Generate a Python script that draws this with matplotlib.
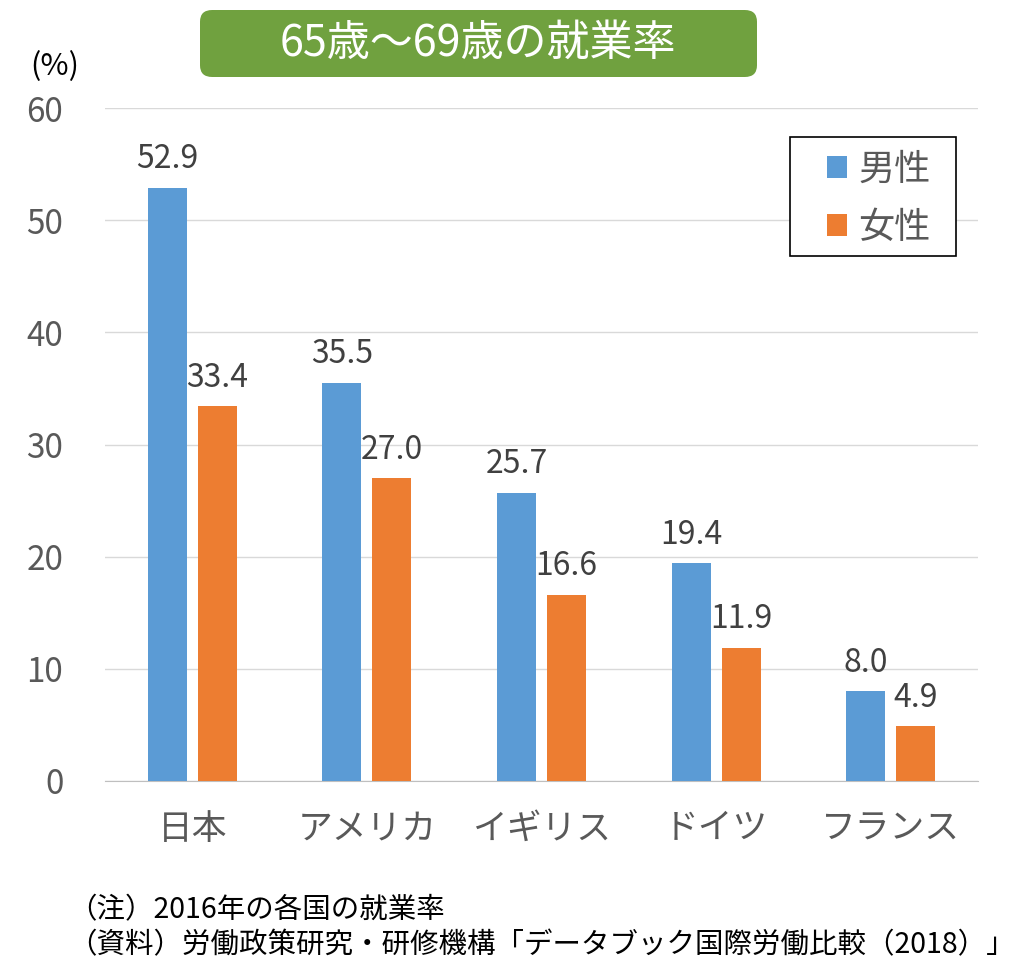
import matplotlib.pyplot as plt
import numpy as np
from matplotlib.patches import FancyBboxPatch, Rectangle

plt.rcParams['font.family'] = ['Noto Sans CJK JP', 'DejaVu Sans']

countries = ['日本', 'アメリカ', 'イギリス', 'ドイツ', 'フランス']
male = [52.9, 35.5, 25.7, 19.4, 8.0]
female = [33.4, 27.0, 16.6, 11.9, 4.9]
yticks = [0, 10, 20, 30, 40, 50, 60]

BLUE = '#5B9BD5'
ORANGE = '#ED7D31'
TXT = '#404040'
TICK = '#595959'

fig = plt.figure(figsize=(10.16, 9.76), dpi=100)
ax = fig.add_axes([0.1033, 0.1998, 0.8593, 0.6895])

x = np.arange(len(countries))
w = 0.223
off = 0.143
b1 = ax.bar(x - off, male, w, color=BLUE, label='男性', zorder=3)
b2 = ax.bar(x + off, female, w, color=ORANGE, label='女性', zorder=3)

for bars, vals in ((b1, male), (b2, female)):
    for r, v in zip(bars, vals):
        ax.annotate(f'{v:.1f}', (r.get_x() + r.get_width() / 2, v),
                    xytext=(0, 9), textcoords='offset points',
                    ha='center', va='bottom', fontsize=23, color=TXT)

ax.set_xlim(-0.5, len(countries) - 0.5)
ax.set_ylim(0, 60)
ax.set_yticks(yticks)
ax.set_xticks(x)
ax.set_xticklabels(countries, fontsize=25, color=TICK)
ax.tick_params(axis='y', labelsize=24, labelcolor=TICK, length=0, pad=30)
ax.tick_params(axis='x', length=0, pad=22)
ax.grid(axis='y', color='#D9D9D9', linewidth=1, zorder=0)
for s in ['top', 'right', 'left']:
    ax.spines[s].set_visible(False)
ax.spines['bottom'].set_color('#BFBFBF')

# legend box drawn separately (wider side padding than legend allows)
fig.patches.append(Rectangle((790 / 1016, 1 - 256 / 976), 166 / 1016, 119 / 976,
                             transform=fig.transFigure, facecolor='white',
                             edgecolor='black', linewidth=1.2, zorder=4))
leg = fig.legend(handles=[b1, b2], loc='upper left',
                 bbox_to_anchor=(827 / 1016, 1 - 152 / 976), fontsize=26,
                 frameon=False, handlelength=0.55, handleheight=0.55,
                 labelspacing=0.6, borderpad=0, handletextpad=0.32,
                 labelcolor=TICK, borderaxespad=0)
leg.set_zorder(5)

fig.text(30 / 1016, 1 - 67 / 976, '(%)', fontsize=22, color='black', va='center')

box = FancyBboxPatch((200 / 1016, 1 - 77 / 976), 557 / 1016, 67 / 976,
                     boxstyle='round,pad=0,rounding_size=0.012',
                     transform=fig.transFigure, facecolor='#70A13F',
                     edgecolor='none')
fig.patches.append(box)
fig.text(478 / 1016, 1 - 44 / 976, '65歳～69歳の就業率', fontsize=31,
         color='white', ha='center', va='center')

fig.text(68 / 1016, 1 - 910 / 976, '（注）2016年の各国の就業率',
         fontsize=20.5, color='black', va='center')
fig.text(68 / 1016, 1 - 945 / 976, '（資料）労働政策研究・研修機構「データブック国際労働比較（2018）」',
         fontsize=20.5, color='black', va='center')

fig.savefig('out.png', dpi=100)
